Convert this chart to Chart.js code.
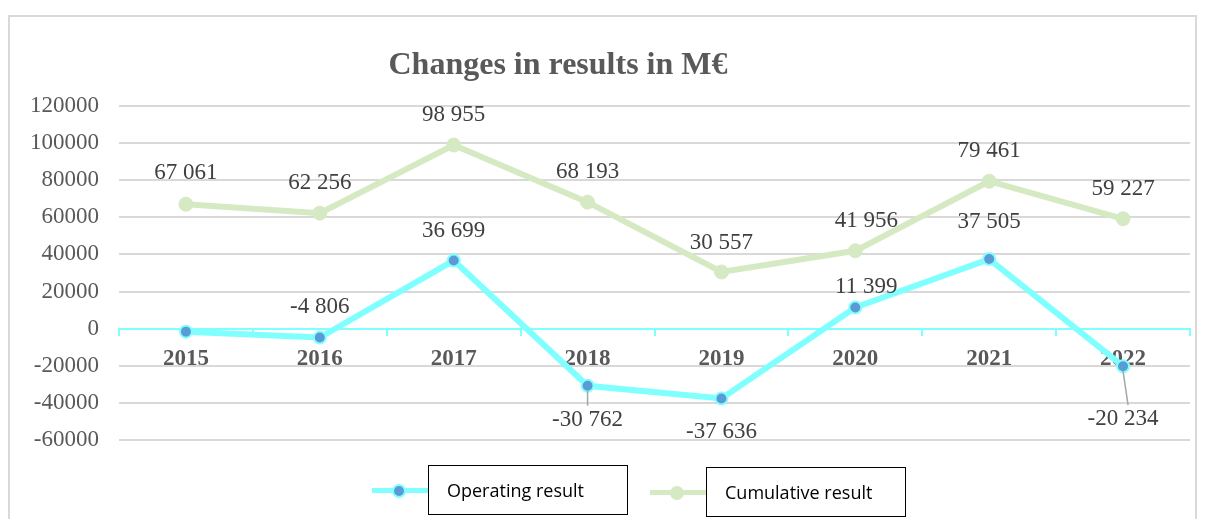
<!DOCTYPE html>
<html>
<head>
<meta charset="utf-8">
<script src="https://cdn.jsdelivr.net/npm/chart.js@4.4.0/dist/chart.umd.min.js"></script>
<style>
  html, body { margin: 0; padding: 0; background: #fff; }
  #wrap { position: relative; width: 1207px; height: 519px; overflow: hidden; }
  #frame { position: absolute; left: 8px; top: 15px; width: 1189px; height: 520px; border: 2px solid #d9d9d9; box-sizing: border-box; }
  #title { position: absolute; left: 0; width: 1116px; top: 45px; text-align: center;
           font: bold 32px "Liberation Serif", serif; color: #595959; }
  canvas { position: absolute; left: 0; top: 0; }
  .leg-line { position: absolute; height: 5px; }
  .leg-dot { position: absolute; width: 10px; height: 10px; border-radius: 50%; }
  .leg-box { position: absolute; width: 200px; height: 50px; border: 1px solid #000; box-sizing: border-box;
             font: 18px "Open Sans", "Liberation Sans", sans-serif; color: #000; line-height: 48px; padding-left: 18px; }
</style>
</head>
<body>
<div id="wrap">
  <div id="frame"></div>
  <canvas id="chart" width="1207" height="519"></canvas>
  <div id="title">Changes in results in M€</div>
  <div id="legend"></div>
</div>
<script>
const years = ['2015', '2016', '2017', '2018', '2019', '2020', '2021', '2022'];
const operatingResult = [-1600, -4806, 36699, -30762, -37636, 11399, 37505, -20234];
const cumulativeResult = [67061, 62256, 98955, 68193, 30557, 41956, 79461, 59227];
const yTicks = { min: -60000, max: 120000, step: 20000 };

const cyan = '#80ffff';
const blue = '#5b9bd5';
const green = '#d5eac3';

function fmt(v) {
    const s = Math.abs(v).toString().replace(/\B(?=(\d{3})+(?!\d))/g, ' ');
    return (v < 0 ? '-' : '') + s;
}

// data labels drawn next to the points (no datalabels plugin available offline)
const valueLabels = {
    id: 'valueLabels',
    afterDatasetsDraw(chart, args, opts) {
        const ctx = chart.ctx;
        ctx.save();
        ctx.font = '23px "Liberation Serif", serif';
        ctx.fillStyle = '#404040';
        ctx.textAlign = 'center';
        ctx.textBaseline = 'middle';
        chart.data.datasets.forEach((ds, i) => {
            const meta = chart.getDatasetMeta(i);
            meta.data.forEach((pt, j) => {
                const p = opts.placement[i][j];
                if (!p) return;
                const x = pt.x + (p.dx || 0);
                const y = pt.y + p.dy;
                if (p.leader) {
                    ctx.strokeStyle = '#a6a6a6';
                    ctx.lineWidth = 1.5;
                    ctx.beginPath();
                    ctx.moveTo(pt.x, pt.y + 5);
                    ctx.lineTo(x + (p.lx || 0), y - 14);
                    ctx.stroke();
                }
                ctx.fillText(fmt(ds.data[j]), x, y);
            });
        });
        ctx.restore();
    }
};

const chart = new Chart(document.getElementById('chart'), {
    type: 'line',
    data: {
        labels: years,
        datasets: [{
            label: 'Operating result',
            data: operatingResult,
            borderColor: cyan,
            borderWidth: 6,
            pointRadius: 6,
            pointBackgroundColor: blue,
            pointBorderColor: cyan,
            pointBorderWidth: 2,
            tension: 0
        }, {
            label: 'Cumulative result',
            data: cumulativeResult,
            borderColor: green,
            borderWidth: 6,
            pointRadius: 7,
            pointBackgroundColor: green,
            pointBorderColor: green,
            pointBorderWidth: 1,
            tension: 0
        }]
    },
    options: {
        responsive: false,
        animation: false,
        events: [],
        layout: { padding: { left: 8, right: 17, top: 106, bottom: 79 } },
        plugins: {
            legend: { display: false },
            tooltip: { enabled: false },
            valueLabels: {
                placement: [
                    [null, { dy: -31 }, { dy: -30 }, { dy: 34, leader: true }, { dy: 33 },
                     { dy: -21, dx: 11 }, { dy: -37 }, { dy: 53, leader: true, lx: 5 }],
                    [{ dy: -31 }, { dy: -30 }, { dy: -30 }, { dy: -30 }, { dy: -29 },
                     { dy: -30, dx: 11 }, { dy: -30 }, { dy: -30 }]
                ]
            }
        },
        scales: {
            x: {
                type: 'category',
                offset: true,
                position: { y: 0 },
                border: { display: true, color: cyan, width: 2 },
                grid: { offset: true, drawOnChartArea: false, drawTicks: true, tickLength: 6, color: cyan, lineWidth: 2 },
                ticks: {
                    padding: 11,
                    color: '#595959',
                    font: { family: '"Liberation Serif", serif', size: 23, weight: 'bold' }
                }
            },
            y: {
                min: yTicks.min,
                max: yTicks.max,
                afterFit(scale) { scale.width = 111; },
                border: { display: false },
                grid: { color: '#d9d9d9', lineWidth: 2, drawTicks: false },
                ticks: {
                    stepSize: yTicks.step,
                    padding: 20,
                    color: '#595959',
                    font: { family: '"Liberation Serif", serif', size: 23 },
                    callback: v => String(v)
                }
            }
        }
    },
    plugins: [valueLabels]
});

// legend with framed labels, built from the datasets
const legend = document.getElementById('legend');
const legendPos = [{ x: 372, y: 465 }, { x: 650, y: 467 }];
chart.data.datasets.forEach((ds, i) => {
    const p = legendPos[i];
    const line = document.createElement('div');
    line.className = 'leg-line';
    line.style.cssText = `left:${p.x}px;top:${p.y + 23}px;width:56px;background:${ds.borderColor}`;
    const dot = document.createElement('div');
    dot.className = 'leg-dot';
    dot.style.cssText = `left:${p.x + 20}px;top:${p.y + 19}px;background:${ds.pointBackgroundColor};border:2px solid ${ds.pointBorderColor}`;
    const box = document.createElement('div');
    box.className = 'leg-box';
    box.style.cssText = `left:${p.x + 56}px;top:${p.y}px`;
    box.textContent = ds.label;
    legend.append(line, dot, box);
});
</script>
</body>
</html>
